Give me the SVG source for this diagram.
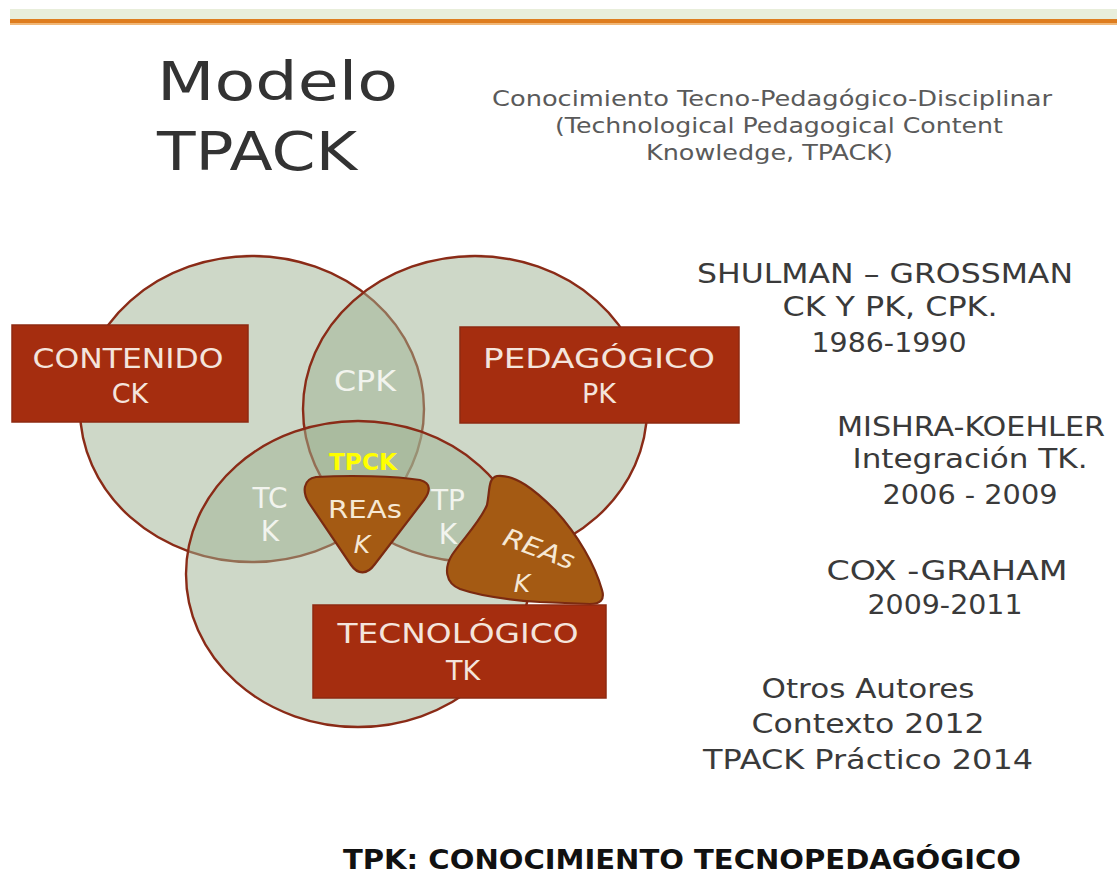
<svg xmlns="http://www.w3.org/2000/svg" width="1117" height="886" viewBox="0 0 1117 886">
<defs>
<style>
.sans{font-family:"DejaVu Sans","Liberation Sans",sans-serif}
.circ{fill:#9eb291;fill-opacity:0.5;stroke:#8a2b17;stroke-width:2.4}
.box{fill:#a52d0f;stroke:#8e2a12;stroke-width:1.5}
.boxt{fill:#f4e4dc;font-size:27px;text-anchor:middle}
.lens{fill:#f2f4ee;font-size:28px;text-anchor:middle}
.rea{fill:#a45a13;stroke:#7b2a10;stroke-width:2.2}
.reat{fill:#f6e8d4;font-size:25px;text-anchor:middle}
.side{fill:#3a3a3a;font-size:26px;text-anchor:middle}
.sub{fill:#5a5a5a;font-size:22px}
</style>
</defs>
<rect width="1117" height="886" fill="#ffffff"/>
<g id="topband">
<rect x="10" y="9" width="1107" height="10" fill="#e8eedb"/>
<rect x="10" y="19" width="1107" height="4" fill="#de7d1f"/>
<rect x="10" y="23" width="1107" height="2" fill="#f1b878"/>
</g>
<g id="title" class="sans">
<text x="157" y="100" font-size="54" fill="#333" textLength="241" lengthAdjust="spacingAndGlyphs">Modelo</text>
<text x="157" y="170" font-size="54" fill="#333" textLength="200" lengthAdjust="spacingAndGlyphs">TPACK</text>
</g>
<g id="subtitle" class="sans sub">
<text x="492" y="106" textLength="560" lengthAdjust="spacingAndGlyphs">Conocimiento Tecno-Pedagógico-Disciplinar</text>
<text x="555" y="133" textLength="448" lengthAdjust="spacingAndGlyphs">(Technological Pedagogical Content</text>
<text x="646" y="160" textLength="247" lengthAdjust="spacingAndGlyphs">Knowledge, TPACK)</text>
</g>
<g id="circles">
<ellipse id="circle-ck" class="circ" cx="252" cy="409" rx="172" ry="153"/>
<ellipse id="circle-pk" class="circ" cx="475" cy="409" rx="172" ry="153"/>
<ellipse id="circle-tk" class="circ" cx="358" cy="574" rx="172" ry="153"/>
</g>
<g id="lens-labels" class="sans">
<text class="lens" x="365" y="391" textLength="62" lengthAdjust="spacingAndGlyphs">CPK</text>
<text class="lens" x="270" y="508">TC</text>
<text class="lens" x="270" y="541">K</text>
<text class="lens" x="448" y="510">TP</text>
<text class="lens" x="448" y="544">K</text>
<text x="363" y="470" font-size="23" font-weight="bold" fill="#ffff00" text-anchor="middle" textLength="68" lengthAdjust="spacingAndGlyphs">TPCK</text>
</g>
<g id="reas-center">
<path class="rea" d="M 316,477 C 350,475 395,476 420,480 C 432,483 430,492 424,500 L 375,564 C 367,575 358,575 351,565 L 309,503 C 302,492 303,479 316,477 Z"/>
<text class="sans reat" x="365" y="518" textLength="74" lengthAdjust="spacingAndGlyphs">REAs</text>
<text class="sans reat" x="362" y="553" font-style="italic">K</text>
</g>
<g id="reas-outer">
<path class="rea" d="M 497,476 C 515,474 535,490 555,510 C 578,535 595,565 602,590 C 605,600 600,604 590,604 L 540,602 C 510,600 480,596 460,589 C 445,583 444,568 452,555 C 462,540 480,522 487,505 C 490,490 488,478 497,476 Z"/>
<text class="sans reat" x="536" y="557" font-style="italic" transform="rotate(20 536 557)" textLength="74" lengthAdjust="spacingAndGlyphs">REAs</text>
<text class="sans reat" x="522" y="592" font-style="italic">K</text>
</g>
<g id="box-ck" class="sans">
<rect class="box" x="12" y="325" width="236" height="97"/>
<text class="boxt" x="128" y="368" textLength="191" lengthAdjust="spacingAndGlyphs">CONTENIDO</text>
<text class="boxt" x="130" y="403">CK</text>
</g>
<g id="box-pk" class="sans">
<rect class="box" x="460" y="327" width="279" height="96"/>
<text class="boxt" x="599" y="368" textLength="232" lengthAdjust="spacingAndGlyphs">PEDAGÓGICO</text>
<text class="boxt" x="599" y="403">PK</text>
</g>
<g id="box-tk" class="sans">
<rect class="box" x="313" y="605" width="293" height="93"/>
<text class="boxt" x="458" y="643" textLength="241" lengthAdjust="spacingAndGlyphs">TECNOLÓGICO</text>
<text class="boxt" x="463" y="680">TK</text>
</g>
<g id="authors" class="sans side">
<text x="885" y="283" textLength="376" lengthAdjust="spacingAndGlyphs">SHULMAN – GROSSMAN</text>
<text x="890" y="316" textLength="215" lengthAdjust="spacingAndGlyphs">CK Y PK, CPK.</text>
<text x="889" y="352" textLength="155" lengthAdjust="spacingAndGlyphs">1986-1990</text>
<text x="971" y="436" textLength="268" lengthAdjust="spacingAndGlyphs">MISHRA-KOEHLER</text>
<text x="970" y="468" textLength="235" lengthAdjust="spacingAndGlyphs">Integración TK.</text>
<text x="970" y="504" textLength="175" lengthAdjust="spacingAndGlyphs">2006 - 2009</text>
<text x="947" y="580" textLength="241" lengthAdjust="spacingAndGlyphs">COX -GRAHAM</text>
<text x="945" y="614" textLength="155" lengthAdjust="spacingAndGlyphs">2009-2011</text>
<text x="868" y="698" textLength="213" lengthAdjust="spacingAndGlyphs">Otros Autores</text>
<text x="868" y="733" textLength="233" lengthAdjust="spacingAndGlyphs">Contexto 2012</text>
<text x="868" y="769" textLength="330" lengthAdjust="spacingAndGlyphs">TPACK Práctico 2014</text>
</g>
<g id="footer" class="sans">
<text x="682" y="869" font-size="27" font-weight="bold" fill="#111" text-anchor="middle" textLength="678" lengthAdjust="spacingAndGlyphs">TPK: CONOCIMIENTO TECNOPEDAGÓGICO</text>
</g>
</svg>
